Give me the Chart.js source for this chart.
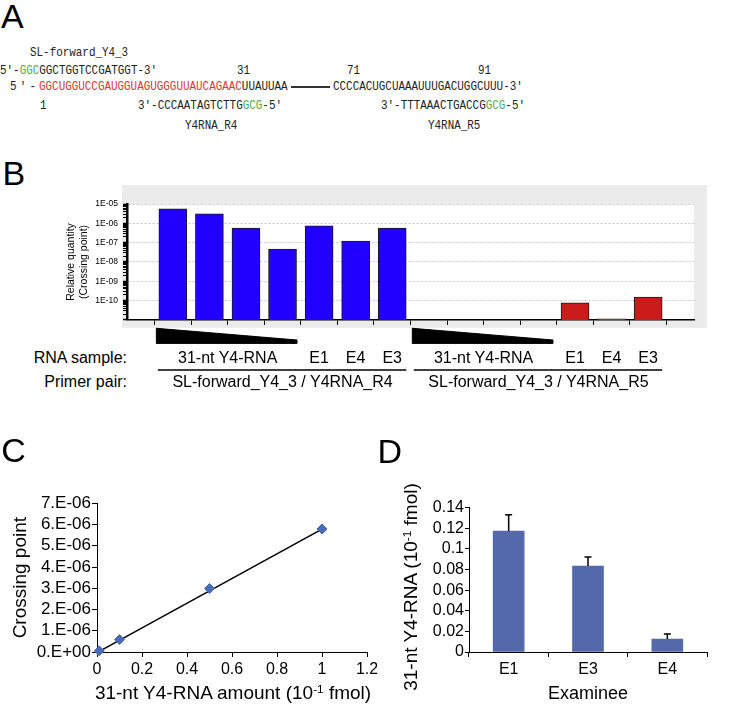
<!DOCTYPE html>
<html><head><meta charset="utf-8">
<script src="https://cdn.jsdelivr.net/npm/chart.js@4.4.1/dist/chart.umd.min.js"></script>
<style>
html,body{margin:0;padding:0;background:#fff;}
body{width:732px;height:705px;position:relative;overflow:hidden;font-family:'Liberation Sans',Arial,sans-serif;color:#000;}
.mono{position:absolute;white-space:pre;font-family:'Liberation Mono','Courier New',monospace;font-size:12.4px;line-height:14px;color:#222;transform:scaleX(0.88);transform-origin:0 50%;}
.g{color:#4fae4f}
.r{color:#e23434}
.big{position:absolute;font-size:34px;line-height:34px;}
.lbl{position:absolute;font-size:16px;line-height:16px;white-space:nowrap;}
.c{transform:translateX(-50%);}
.ttl{position:absolute;white-space:nowrap;}
sup{font-size:0.62em;vertical-align:0.55em;line-height:0;}
canvas{position:absolute;}
</style></head>
<body>
<!-- Panel A -->
<div class="big" style="left:1px;top:-1px">A</div>
<div class="mono" style="left:30px;top:45.8px">SL-forward_Y4_3</div>
<div class="mono" style="left:0;top:63.7px">5′-<span class="g">GGC</span>GGCTGGTCCGATGGT-3′</div>
<div class="mono" style="left:236.7px;top:63.7px">31</div>
<div class="mono" style="left:347px;top:63.7px">71</div>
<div class="mono" style="left:478px;top:63.7px">91</div>
<div class="mono" style="left:10px;top:80.4px;letter-spacing:3.6px">5′-</div>
<div class="mono" style="left:39.3px;top:80.4px"><span class="r">GGCUGGUCCGAUGGUAGUGGGUUAUCAGAAC</span>UUAUUAA</div>
<div style="position:absolute;left:290.7px;top:86.3px;width:39.3px;height:2px;background:#333"></div>
<div class="mono" style="left:333.3px;top:80.4px">CCCCACUGCUAAAUUUGACUGGCUUU-3′</div>
<div class="mono" style="left:40px;top:98.9px">1</div>
<div class="mono" style="left:138.3px;top:98.9px">3′-CCCAATAGTCTTG<span class="g">GCG</span>-5′</div>
<div class="mono" style="left:381px;top:98.9px">3′-TTTAAACTGACCG<span class="g">GCG</span>-5′</div>
<div class="mono" style="left:185px;top:119.2px">Y4RNA_R4</div>
<div class="mono" style="left:427.7px;top:119.2px">Y4RNA_R5</div>

<!-- Panel B -->
<div class="big" style="left:2.5px;top:156px">B</div>
<canvas id="chartB" width="652" height="147" style="left:60px;top:183px"></canvas>
<div class="lbl" style="right:605px;top:350px">RNA sample:</div>
<div class="lbl" style="right:605px;top:373.7px">Primer pair:</div>
<svg id="overlay" width="732" height="705" style="position:absolute;left:0;top:0"></svg>

<!-- Panel C -->
<div class="big" style="left:1.3px;top:433px">C</div>
<canvas id="chartC" width="385" height="215" style="left:0px;top:490px"></canvas>
<div class="ttl" style="left:233px;top:681.6px;font-size:19px;line-height:22.8px;transform:translateX(-50%)">31-nt Y4-RNA amount (10<sup>-1</sup> fmol)</div>

<!-- Panel D -->
<div class="big" style="left:377.5px;top:434px">D</div>
<canvas id="chartD" width="352" height="215" style="left:380px;top:490px"></canvas>
<div class="ttl" style="left:410.5px;top:587px;font-size:19px;line-height:20px;transform:translate(-50%,-50%) rotate(-90deg)">31-nt Y4-RNA (10<sup>-1</sup> fmol)</div>

<script>
// ---------------- Data ----------------
// Panel B: relative quantity (crossing point), log scale
const bCategories = ['31-nt 1','31-nt 0.5','31-nt 0.1','31-nt 0.01','E1','E4','E3',
                     '31-nt 1','31-nt 0.5','31-nt 0.1','31-nt 0.01','E1','E4','E3'];
const bPrimerR4 = [5.7e-6, 3.1e-6, 5.6e-7, 4.6e-8, 7.4e-7, 1.2e-7, 5.6e-7,
                   null, null, null, null, null, null, null];
const bPrimerR5 = [null, null, null, null, null, null, null,
                   null, null, null, null, 7.6e-11, 1.15e-11, 1.5e-10];
const bDecades = [-11, -10, -9, -8, -7, -6, -5];
const bRnaSampleLabels = ['31-nt Y4-RNA', 'E1', 'E4', 'E3', '31-nt Y4-RNA', 'E1', 'E4', 'E3'];
const bRnaSampleSpans = [[0,3],[4,4],[5,5],[6,6],[7,10],[11,11],[12,12],[13,13]];
const bPrimerPairs = ['SL-forward_Y4_3 / Y4RNA_R4', 'SL-forward_Y4_3 / Y4RNA_R5'];
const bPrimerSpans = [[0,6],[7,13]];
const bDilutionSpans = [[0,3],[7,10]];

// Panel C: standard curve
const cAmount = [0.01, 0.1, 0.5, 1];
const cCrossing = [0.055e-6, 0.585e-6, 2.99e-6, 5.79e-6];
const cTrendX = [0.01, 1];
const cTrendY = [0.03e-6, 5.78e-6];
const cXTickValues = [0, 0.2, 0.4, 0.6, 0.8, 1, 1.2];
const cXTickLabels = ['0', '0.2', '0.4', '0.6', '0.8', '1', '1.2'];
const cYTickValues = [0, 1e-6, 2e-6, 3e-6, 4e-6, 5e-6, 6e-6, 7e-6];
const cYTickLabels = ['0.E+00', '1.E-06', '2.E-06', '3.E-06', '4.E-06', '5.E-06', '6.E-06', '7.E-06'];

// Panel D: amount per examinee
const dExaminees = ['E1', 'E3', 'E4'];
const dAmount = [0.1174, 0.0834, 0.0126];
const dError = [0.0158, 0.0088, 0.0049];
const dYTickValues = [0, 0.02, 0.04, 0.06, 0.08, 0.1, 0.12, 0.14];
const dYTickLabels = ['0', '0.02', '0.04', '0.06', '0.08', '0.1', '0.12', '0.14'];

// ---------------- Defaults ----------------
Chart.defaults.font.family = "'Liberation Sans', Arial, sans-serif";
Chart.defaults.color = '#000';
Chart.defaults.animation = false;
Chart.defaults.events = [];
Chart.defaults.plugins.legend.display = false;
Chart.defaults.plugins.tooltip.enabled = false;

// ---------------- Chart B ----------------
const bBackground = {
  id: 'bBackground',
  beforeDraw(chart) {
    const {ctx, chartArea: a} = chart;
    ctx.save();
    ctx.fillStyle = '#ebebeb';
    ctx.fillRect(a.left - 5, a.top - 19, a.right - a.left + 18, a.bottom - a.top + 27);
    ctx.fillStyle = '#fff';
    ctx.fillRect(a.left, a.top, a.right - a.left, a.bottom - a.top);
    ctx.restore();
  }
};
const toPoints = arr => arr.map((v, i) => ({x: i, y: v})).filter(p => p.y !== null);

const chartB = new Chart(document.getElementById('chartB'), {
  type: 'bar',
  data: {
    datasets: [
      {label: 'SL-forward_Y4_3 / Y4RNA_R4', data: toPoints(bPrimerR4), backgroundColor: '#2200ff',
       borderColor: '#1a1a1a', borderWidth: 1, barThickness: 28, grouped: false},
      {label: 'SL-forward_Y4_3 / Y4RNA_R5', data: toPoints(bPrimerR5), backgroundColor: '#cc1b1b',
       borderColor: '#1a1a1a', borderWidth: 1, barThickness: 28, grouped: false}
    ]
  },
  options: {
    responsive: false,
    layout: {padding: {top: 21, right: 18, left: 0, bottom: 0}},
    scales: {
      x: {
        type: 'linear', min: -0.7, max: 13.7,
        afterBuildTicks: s => { s.ticks = bCategories.map((c, i) => ({value: i})); },
        afterFit: s => { s.height = 10; },
        ticks: {display: false},
        grid: {drawOnChartArea: false, drawTicks: true, tickLength: 5, tickColor: '#000', tickWidth: 1},
        border: {color: '#000', width: 1.5}
      },
      y: {
        type: 'logarithmic', min: 1e-11, max: 1e-5,
        afterBuildTicks: s => {
          const t = [];
          bDecades.forEach(e => {
            for (let m = 1; m <= 9; m++) {
              if (e === -5 && m > 1) break;
              t.push({value: m * Math.pow(10, e), major: m === 1});
            }
          });
          s.ticks = t;
        },
        afterFit: s => { s.width = 67; },
        ticks: {
          autoSkip: false, padding: 5, font: {size: 8.5},
          callback: (v, i, ticks) => {
            if (!ticks[i].major) return '';
            const e = Math.round(Math.log10(v));
            if (e <= -11) return '';
            return '1E-' + String(-e).padStart(2, '0');
          }
        },
        grid: {
          color: c => (c.tick && c.tick.major && c.tick.value > 2e-11) ? '#c4c4c4' : 'rgba(0,0,0,0)',
          tickColor: '#000', tickLength: 4,
          tickWidth: c => (c.tick && c.tick.major) ? 1.5 : 1,
          lineWidth: 1
        },
        border: {color: '#000', width: 2.5, dash: [2, 2]},
        title: {display: true, text: ['Relative quantity', '(Crossing point)'], font: {size: 10.5},
                padding: {top: 5, bottom: 0}}
      }
    }
  },
  plugins: [bBackground]
});

// Labels / wedges under panel B, positioned through chart B's x scale
(function () {
  const canvasLeft = 60;
  const sx = chartB.scales.x;
  const px = i => canvasLeft + sx.getPixelForValue(i);
  const svgNS = 'http://www.w3.org/2000/svg';
  const svg = document.getElementById('overlay');
  bDilutionSpans.forEach(([a, b]) => {
    const xl = px(a) - 16.5, xr = px(b) + 14.5;
    const p = document.createElementNS(svgNS, 'polygon');
    p.setAttribute('points', `${xl},328.3 ${xr},340 ${xr},343.4 ${xl},343.4`);
    p.setAttribute('fill', '#000'); p.setAttribute('stroke', '#000');
    p.setAttribute('stroke-width', '1'); p.setAttribute('stroke-linejoin', 'round');
    svg.appendChild(p);
  });
  bPrimerSpans.forEach(([a, b]) => {
    const l = document.createElementNS(svgNS, 'line');
    l.setAttribute('x1', px(a) - 15); l.setAttribute('x2', px(b) + 14);
    l.setAttribute('y1', 370); l.setAttribute('y2', 370);
    l.setAttribute('stroke', '#000'); l.setAttribute('stroke-width', '1.5');
    svg.appendChild(l);
  });
  const addLabel = (text, span, top) => {
    const d = document.createElement('div');
    d.className = 'lbl c';
    d.textContent = text;
    d.style.left = ((px(span[0]) + px(span[1])) / 2) + 'px';
    d.style.top = top + 'px';
    document.body.appendChild(d);
  };
  bRnaSampleLabels.forEach((t, k) => addLabel(t, bRnaSampleSpans[k], 350));
  bPrimerPairs.forEach((t, k) => addLabel(t, bPrimerSpans[k], 373.7));
})();

// ---------------- Chart C ----------------
new Chart(document.getElementById('chartC'), {
  type: 'scatter',
  data: {
    datasets: [
      {label: 'Crossing point', data: cAmount.map((x, i) => ({x, y: cCrossing[i]})),
       pointStyle: 'rectRot', pointRadius: 5, backgroundColor: '#4a6cb6', borderColor: '#4a6cb6',
       borderWidth: 1, clip: false, order: 0},
      {type: 'line', label: 'Linear fit', data: cTrendX.map((x, i) => ({x, y: cTrendY[i]})),
       borderColor: '#000', borderWidth: 1.5, pointRadius: 0, fill: false, order: 1}
    ]
  },
  options: {
    responsive: false,
    layout: {padding: {top: 13.3, right: 18, left: 0, bottom: 0}},
    scales: {
      x: {
        type: 'linear', min: 0, max: 1.2,
        afterBuildTicks: s => { s.ticks = cXTickValues.map(v => ({value: v})); },
        afterFit: s => { s.height = 53; },
        ticks: {autoSkip: false, maxRotation: 0, font: {size: 16}, padding: 3, callback: (v, i) => cXTickLabels[i]},
        grid: {drawOnChartArea: false, tickLength: 5, tickColor: '#000'},
        border: {color: '#000', width: 1}
      },
      y: {
        type: 'linear', min: 0, max: 7e-6,
        afterBuildTicks: s => { s.ticks = cYTickValues.map(v => ({value: v})); },
        afterFit: s => { s.width = 97; },
        ticks: {autoSkip: false, font: {size: 17}, padding: 1, callback: (v, i) => cYTickLabels[i]},
        grid: {drawOnChartArea: false, tickLength: 5, tickColor: '#000'},
        border: {color: '#000', width: 1},
        title: {display: true, text: 'Crossing point', font: {size: 19}, padding: {top: 9.5, bottom: 0}}
      }
    }
  }
});

// ---------------- Chart D ----------------
const dErrorBars = {
  id: 'dErrorBars',
  afterDatasetsDraw(chart) {
    const {ctx} = chart;
    const meta = chart.getDatasetMeta(0);
    const ys = chart.scales.y;
    ctx.save();
    ctx.strokeStyle = '#000';
    ctx.lineWidth = 1.5;
    meta.data.forEach((bar, i) => {
      const x = bar.x;
      const y0 = ys.getPixelForValue(dAmount[i]);
      const y1 = ys.getPixelForValue(dAmount[i] + dError[i]);
      ctx.beginPath();
      ctx.moveTo(x, y0); ctx.lineTo(x, y1);
      ctx.moveTo(x - 3.5, y1); ctx.lineTo(x + 3.5, y1);
      ctx.stroke();
    });
    ctx.restore();
  }
};

new Chart(document.getElementById('chartD'), {
  type: 'bar',
  data: {
    labels: dExaminees,
    datasets: [{label: '31-nt Y4-RNA', data: dAmount, backgroundColor: '#5468ac', barThickness: 31}]
  },
  options: {
    responsive: false,
    layout: {padding: {top: 17.7, right: 25, left: 0, bottom: 0}},
    scales: {
      x: {
        afterFit: s => { s.height = 53; },
        ticks: {autoSkip: false, maxRotation: 0, font: {size: 16}, padding: 3},
        grid: {drawOnChartArea: false, tickLength: 5, tickColor: '#000', offset: true},
        border: {color: '#000', width: 1},
        title: {display: true, text: 'Examinee', font: {size: 18}, padding: {top: 0, bottom: 0}}
      },
      y: {
        type: 'linear', min: 0, max: 0.14,
        afterBuildTicks: s => { s.ticks = dYTickValues.map(v => ({value: v})); },
        afterFit: s => { s.width = 89; },
        ticks: {autoSkip: false, font: {size: 16}, padding: 1, callback: (v, i) => dYTickLabels[i]},
        grid: {drawOnChartArea: false, tickLength: 4, tickColor: '#000'},
        border: {color: '#000', width: 1}
      }
    }
  },
  plugins: [dErrorBars]
});
</script>
</body></html>
